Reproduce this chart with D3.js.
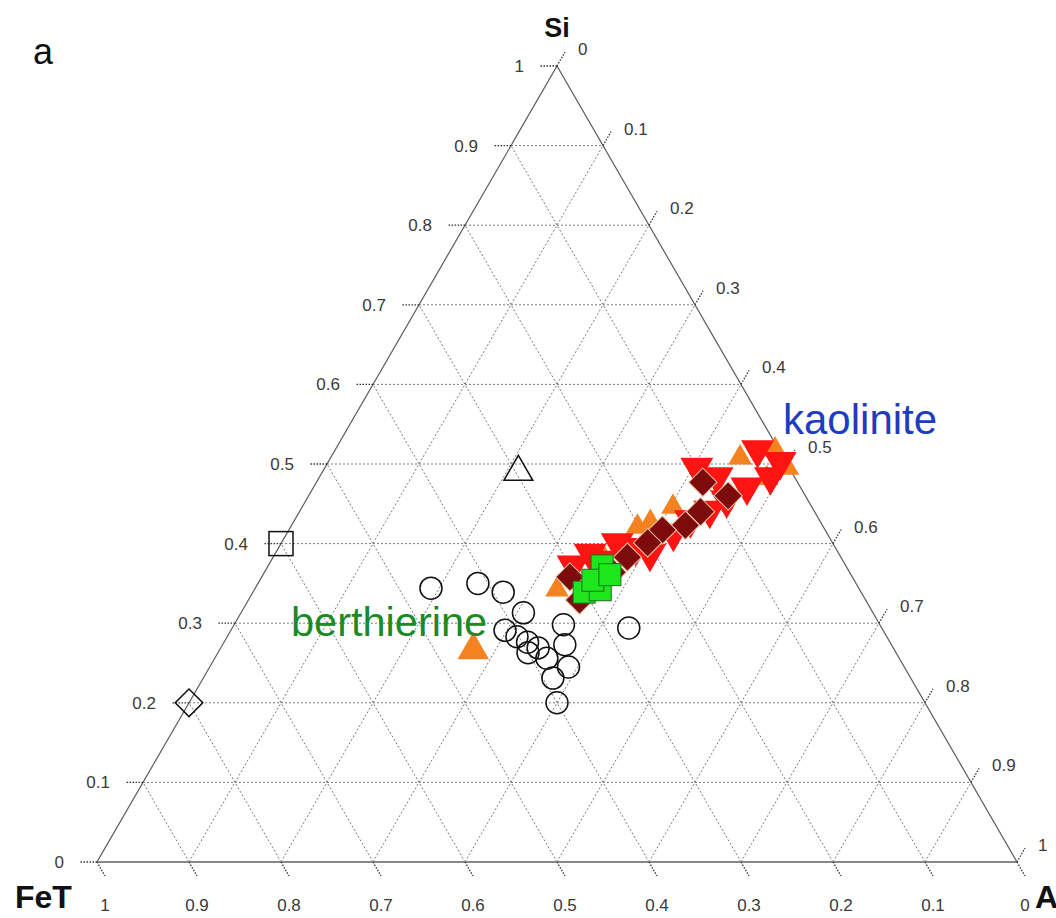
<!DOCTYPE html>
<html>
<head>
<meta charset="utf-8">
<script src="https://cdn.jsdelivr.net/npm/d3@7"></script>
<style>
  html, body { margin: 0; padding: 0; background: #fff; }
  svg { display: block; }
  text { font-family: Arial, "Liberation Sans", Helvetica, sans-serif; }
</style>
</head>
<body>
<svg id="chart" width="1056" height="918"></svg>
<script>
// Ternary composition values: [Si, Al] (FeT = 1 - Si - Al)
const tickValues = [0, 0.1, 0.2, 0.3, 0.4, 0.5, 0.6, 0.7, 0.8, 0.9, 1];
const tickLabels = ["0", "0.1", "0.2", "0.3", "0.4", "0.5", "0.6", "0.7", "0.8", "0.9", "1"];

// Samples (open circles)
const circlesSi = [0.344, 0.350, 0.339, 0.313, 0.291, 0.283, 0.276, 0.269, 0.263, 0.256, 0.298, 0.273, 0.245, 0.231, 0.200, 0.294];
const circlesAl = [0.191, 0.239, 0.272, 0.307, 0.298, 0.315, 0.330, 0.345, 0.337, 0.361, 0.358, 0.372, 0.390, 0.380, 0.400, 0.431];

// Reference end-members (open symbols)
const squareRef = [0.40, 0.00];
const diamondRef = [0.20, 0.00];
const triangleRef = [0.49, 0.213];

// Orange triangles
const orangeSi = [0.508, 0.518, 0.482, 0.495, 0.446, 0.427, 0.342, 0.421, 0.380];
const orangeAl = [0.445, 0.478, 0.487, 0.503, 0.403, 0.388, 0.329, 0.377, 0.362];
const orangeBig = [0.266, 0.276];

// Red inverted triangles
const redSi = [0.518, 0.503, 0.484, 0.471, 0.484, 0.496, 0.455, 0.442, 0.430, 0.413, 0.388, 0.395, 0.401, 0.379, 0.388, 0.373];
const redAl = [0.459, 0.491, 0.490, 0.471, 0.432, 0.404, 0.457, 0.445, 0.430, 0.420, 0.407, 0.388, 0.365, 0.357, 0.342, 0.331];

// Dark red diamonds
const maroonSi = [0.477, 0.460, 0.440, 0.423, 0.417, 0.401, 0.383, 0.364, 0.358, 0.329];
const maroonAl = [0.420, 0.456, 0.436, 0.428, 0.406, 0.398, 0.385, 0.378, 0.335, 0.360];

// Green squares
const greenSi = [0.372, 0.339, 0.342, 0.354, 0.361];
const greenAl = [0.363, 0.360, 0.376, 0.362, 0.377];

const svg = d3.select("#chart");

// Cartesian projection of the ternary plane
const xScale = d3.scaleLinear().domain([0, 1]).range([97, 1017]);
const yScale = d3.scaleLinear().domain([0, 1]).range([862, 66]);
const proj = (si, al) => [xScale(al + si / 2), yScale(si)];

const gridColor = "#7a7a7a";
const edgeColor = "#5c5c5c";

// Grid lines
const grid = svg.append("g").attr("stroke", gridColor).attr("stroke-width", 1)
  .attr("stroke-dasharray", "2,2").attr("fill", "none");
const inner = tickValues.filter(t => t > 0 && t < 1);
inner.forEach(t => {
  // constant Si (horizontal)
  let a = proj(t, 0), b = proj(t, 1 - t);
  grid.append("line").attr("x1", a[0]).attr("y1", a[1]).attr("x2", b[0]).attr("y2", b[1]);
  // constant Al (parallel to the FeT–Si edge)
  a = proj(0, t); b = proj(1 - t, t);
  grid.append("line").attr("x1", a[0]).attr("y1", a[1]).attr("x2", b[0]).attr("y2", b[1]);
  // constant FeT (parallel to the Si–Al edge)
  a = proj(0, 1 - t); b = proj(1 - t, 0);
  grid.append("line").attr("x1", a[0]).attr("y1", a[1]).attr("x2", b[0]).attr("y2", b[1]);
});

// Triangle outline
const corners = [proj(0, 0), proj(0, 1), proj(1, 0)];
svg.append("path")
  .attr("d", d3.line()(corners) + "Z")
  .attr("fill", "none").attr("stroke", edgeColor).attr("stroke-width", 1.2);
// heavier base
svg.append("line")
  .attr("x1", corners[0][0]).attr("y1", corners[0][1])
  .attr("x2", corners[1][0]).attr("y2", corners[1][1])
  .attr("stroke", "#888").attr("stroke-width", 2.2);

// Axis ticks and labels
const ticks = svg.append("g").attr("stroke", "#333").attr("stroke-width", 1.3)
  .attr("stroke-dasharray", "1.5,1.5");
const labels = svg.append("g").attr("fill", "#3a3a3a").attr("font-size", 17);

tickValues.forEach((t, i) => {
  // Si axis: left edge, horizontal ticks
  let p = proj(t, 0);
  ticks.append("line").attr("x1", p[0]).attr("y1", p[1]).attr("x2", p[0] - 18).attr("y2", p[1]);
  labels.append("text").attr("x", p[0] - 33).attr("y", p[1]).attr("dy", "0.35em")
    .attr("text-anchor", "end").text(tickLabels[i]);

  // Al axis: right edge
  p = proj(1 - t, t);
  ticks.append("line").attr("x1", p[0]).attr("y1", p[1]).attr("x2", p[0] + 8).attr("y2", p[1] - 14);
  labels.append("text").attr("x", p[0] + 21).attr("y", p[1] - 17).attr("dy", "0.35em")
    .attr("text-anchor", "start").text(tickLabels[i]);

  // FeT axis: bottom edge
  p = proj(0, 1 - t);
  ticks.append("line").attr("x1", p[0]).attr("y1", p[1]).attr("x2", p[0] + 8).attr("y2", p[1] + 14);
  labels.append("text").attr("x", p[0] + 8).attr("y", 905).attr("dy", "0.35em")
    .attr("text-anchor", "middle").text(tickLabels[i]);
});

// Axis titles
svg.append("text").attr("x", 557).attr("y", 37).attr("text-anchor", "middle")
  .attr("font-size", 27).attr("font-weight", "bold").attr("fill", "#111").text("Si");
svg.append("text").attr("x", 15).attr("y", 908).attr("text-anchor", "start")
  .attr("font-size", 32).attr("font-weight", "bold").attr("fill", "#111").text("FeT");
svg.append("text").attr("x", 1035).attr("y", 908).attr("text-anchor", "start")
  .attr("font-size", 32).attr("font-weight", "bold").attr("fill", "#111").text("Al");

// Panel letter
svg.append("text").attr("x", 33).attr("y", 64).attr("font-size", 36).attr("fill", "#111").text("a");

// Symbol helpers
const sym = (type, area) => d3.symbol().type(type).size(area)();
const marks = svg.append("g");

// Open circles
marks.append("g").selectAll("circle")
  .data(circlesSi.map((s, i) => proj(s, circlesAl[i])))
  .join("circle")
  .attr("cx", d => d[0]).attr("cy", d => d[1]).attr("r", 11)
  .attr("fill", "none").attr("stroke", "#111").attr("stroke-width", 1.5);

// Open reference symbols
let p = proj(squareRef[0], squareRef[1]);
marks.append("rect").attr("x", p[0] - 12).attr("y", p[1] - 12).attr("width", 24).attr("height", 24)
  .attr("fill", "none").attr("stroke", "#111").attr("stroke-width", 1.5);
p = proj(diamondRef[0], diamondRef[1]);
marks.append("path").attr("transform", `translate(${p[0]},${p[1]}) rotate(45)`)
  .attr("d", sym(d3.symbolSquare, 380))
  .attr("fill", "none").attr("stroke", "#111").attr("stroke-width", 1.5);
p = proj(triangleRef[0], triangleRef[1]);
marks.append("path").attr("transform", `translate(${p[0]},${p[1]})`)
  .attr("d", sym(d3.symbolTriangle, 360))
  .attr("fill", "none").attr("stroke", "#111").attr("stroke-width", 1.5);

// Orange triangles
marks.append("g").selectAll("path")
  .data(orangeSi.map((s, i) => proj(s, orangeAl[i])))
  .join("path")
  .attr("transform", d => `translate(${d[0]},${d[1]})`)
  .attr("d", sym(d3.symbolTriangle, 240))
  .attr("fill", "#f58220");
p = proj(orangeBig[0], orangeBig[1]);
marks.append("path").attr("transform", `translate(${p[0]},${p[1]})`)
  .attr("d", sym(d3.symbolTriangle, 430)).attr("fill", "#f58220");

// Red inverted triangles
marks.append("g").selectAll("path")
  .data(redSi.map((s, i) => proj(s, redAl[i])))
  .join("path")
  .attr("transform", d => `translate(${d[0]},${d[1]}) rotate(180)`)
  .attr("d", sym(d3.symbolTriangle, 470))
  .attr("fill", "#ff1414");

// Dark red diamonds
marks.append("g").selectAll("path")
  .data(maroonSi.map((s, i) => proj(s, maroonAl[i])))
  .join("path")
  .attr("transform", d => `translate(${d[0]},${d[1]}) rotate(45)`)
  .attr("d", sym(d3.symbolSquare, 400))
  .attr("fill", "#7d0b0b").attr("stroke", "#e8c8a8").attr("stroke-width", 1);

// Green squares
marks.append("g").selectAll("rect")
  .data(greenSi.map((s, i) => proj(s, greenAl[i])))
  .join("rect")
  .attr("x", d => d[0] - 11).attr("y", d => d[1] - 11).attr("width", 22).attr("height", 22)
  .attr("fill", "#1ee61e").attr("stroke", "#1b6e1b").attr("stroke-width", 1);

// Mineral annotations
svg.append("text").attr("x", 783).attr("y", 434).attr("font-size", 42)
  .attr("fill", "#1e3cc0").text("kaolinite");
svg.append("text").attr("x", 291).attr("y", 636).attr("font-size", 41.5)
  .attr("fill", "#1a8a25").text("berthierine");
</script>
</body>
</html>
